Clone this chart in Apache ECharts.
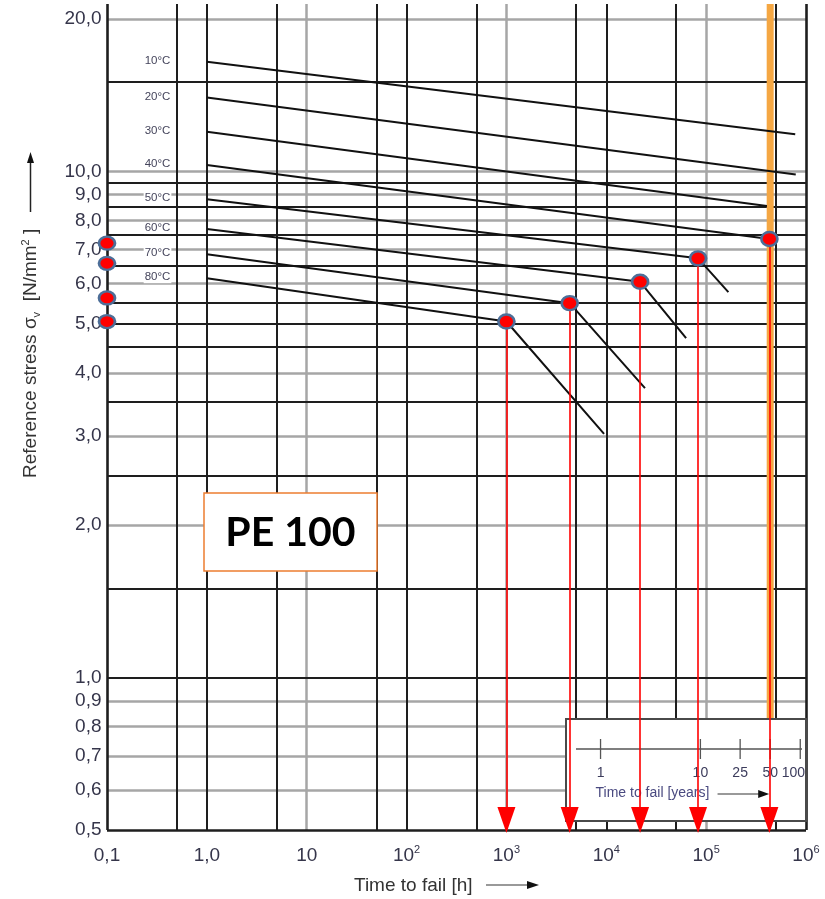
<!DOCTYPE html>
<html>
<head>
<meta charset="utf-8">
<script src="https://cdn.jsdelivr.net/npm/echarts@6/dist/echarts.min.js"></script>
<style>
html,body{margin:0;padding:0;background:#fff;}
#chart{width:825px;height:899px;}
</style>
</head>
<body>
<div id="chart"></div>
<script>
// ---------- data ----------
const tempLabels = ['10°C', '20°C', '30°C', '40°C', '50°C', '60°C', '70°C', '80°C'];
// [time to fail (h), reference stress (N/mm²)]
const curve10C = [[1, 16.46], [7.8e5, 11.83]];
const curve20C = [[1, 13.99], [7.9e5, 9.86]];
const curve30C = [[1, 11.97], [4.06e5, 8.54]];
const curve40C = [[1, 10.29], [4.3e5, 7.35]];
const curve50C = [[1, 8.81], [8.3e4, 6.73], [1.67e5, 5.77]];
const curve60C = [[1, 7.69], [2.18e4, 6.05], [6.3e4, 4.68]];
const curve70C = [[1, 6.86], [4.3e3, 5.49], [2.44e4, 3.73]];
const curve80C = [[1, 6.15], [1.0e3, 5.05], [9.5e3, 3.03]];
// marked failure points (red dots with arrows down to the time axis)
const failurePoints = [[1.0e3, 5.05], [4.3e3, 5.49], [2.18e4, 6.05], [8.3e4, 6.73], [4.3e5, 7.35]];
// red dots on the stress axis
const axisDotStress = [7.21, 6.58, 5.62, 5.05];
// tick labels
const xTickValues = [0.1, 1, 10, 100, 1e3, 1e4, 1e5, 1e6];
const xTickLabels = ['0,1', '1,0', '10', '10^2', '10^3', '10^4', '10^5', '10^6'];
const yTickValues = [20, 10, 9, 8, 7, 6, 5, 4, 3, 2, 1, 0.9, 0.8, 0.7, 0.6, 0.5];
const yTickLabels = ['20,0', '10,0', '9,0', '8,0', '7,0', '6,0', '5,0', '4,0', '3,0', '2,0', '1,0', '0,9', '0,8', '0,7', '0,6', '0,5'];
// grid lines of the printed diagram
const xGridDark = [0.1, 0.5, 1, 5, 50, 100, 500, 5000, 1e4, 5e4, 5e5, 1e6];
const xGridLight = [10, 1000, 1e5];
const yGridDark = [15, 9.5, 8.5, 7.5, 6.5, 5.5, 5, 4.5, 3.5, 2.5, 1.5, 1, 0.5];
const yGridLight = [20, 10, 9, 8, 7, 6, 4, 3, 2, 0.9, 0.8, 0.7, 0.6];
// years scale of the inset
const yearTicks = [1, 10, 25, 50, 100];
const hoursPerYear = 8760;
const designLifeYears = 50;
const xMin = 0.1, xMax = 1e6, yMin = 0.5, yMax = 21.4;

// ---------- chart ----------
const FONT = '"Liberation Sans", Arial, "DejaVu Sans", sans-serif';
const TXT = '#35354a';
const DARK = '#1e1e1e', LIGHT = '#a6a6a6';
const curves = [curve10C, curve20C, curve30C, curve40C, curve50C, curve60C, curve70C, curve80C];

function gridLine(axis, v, color, width) {
  const o = { lineStyle: { color: color, width: width, type: 'solid' } };
  o[axis] = v;
  return o;
}
const edgeX = [xMin, xMax], edgeY = [yMin];
const gridLines = [].concat(
  xGridLight.map(v => gridLine('xAxis', v, LIGHT, 2.5)),
  yGridLight.map(v => gridLine('yAxis', v, LIGHT, 2.5)),
  xGridDark.map(v => gridLine('xAxis', v, DARK, edgeX.includes(v) ? 2.6 : 2)),
  yGridDark.map(v => gridLine('yAxis', v, DARK, edgeY.includes(v) ? 2.6 : 2))
);

const hiddenAxis = {
  axisLine: { show: false }, axisTick: { show: false },
  axisLabel: { show: false }, splitLine: { show: false }
};

const dotStyle = { color: '#ff0000', borderColor: '#4d6e98', borderWidth: 2.5, opacity: 1 };
const ghost = { color: 'rgba(0,0,0,0)', opacity: 1 };

const series = [];
series.push({
  type: 'scatter', data: [], z: 1, silent: true,
  markLine: { z: 1, silent: true, symbol: 'none', label: { show: false }, animation: false, data: gridLines }
});
curves.forEach((c, i) => {
  series.push({
    name: tempLabels[i], type: 'line', data: c, z: 3, silent: true,
    symbol: 'none', lineStyle: { color: '#111', width: 2 }
  });
});
series.push({
  type: 'scatter', z: 4, silent: true, symbolSize: 1, itemStyle: ghost,
  data: curves.map((c, i) => ({ value: c[0], name: tempLabels[i] })),
  label: {
    show: true, position: 'left', distance: 35, offset: [0, -1], formatter: '{b}',
    fontFamily: FONT, fontSize: 11.5, color: '#45455c', backgroundColor: '#fff', padding: [0, 1]
  }
});
series.push({
  type: 'scatter', data: [], z: 6, silent: true,
  markLine: {
    z: 6, silent: true, symbol: 'none', label: { show: false }, animation: false,
    lineStyle: { color: '#ff0000', width: 1.6, type: 'solid' },
    data: failurePoints.map(p => [{ coord: p }, { coord: [p[0], yMin] }])
  }
});
series.push({
  type: 'scatter', z: 6, silent: true,
  symbol: 'triangle', symbolRotate: 180, symbolSize: [18, 26], symbolOffset: [0, -10],
  itemStyle: { color: '#ff0000', opacity: 1 },
  data: failurePoints.map(p => [p[0], yMin])
});
series.push({
  type: 'scatter', z: 7, silent: true, symbolSize: [16, 14], itemStyle: dotStyle,
  data: failurePoints
});
series.push({
  type: 'scatter', z: 7, silent: true, symbolSize: [16, 13], itemStyle: dotStyle,
  data: axisDotStress.map(v => [xMin, v])
});
series.push({
  type: 'scatter', z: 4, silent: true, symbolSize: 1, itemStyle: ghost,
  data: yTickValues.map((v, i) => ({ value: [xMin, v], name: yTickLabels[i] })),
  label: { show: true, position: 'left', distance: 5, formatter: '{b}', fontFamily: FONT, fontSize: 19, color: TXT }
});
series.push({
  type: 'scatter', z: 4, silent: true, symbolSize: 1, itemStyle: ghost,
  data: xTickValues.map((v, i) => ({ value: [v, yMin], name: xTickLabels[i] })),
  label: {
    show: true, position: 'bottom', distance: 14,
    formatter: p => {
      const parts = p.name.split('^');
      return parts.length > 1 ? '{b|' + parts[0] + '}{s|' + parts[1] + '}' : '{b|' + parts[0] + '}';
    },
    rich: {
      b: { fontFamily: FONT, fontSize: 19, color: TXT, lineHeight: 22 },
      s: { fontFamily: FONT, fontSize: 11, color: TXT, verticalAlign: 'top', lineHeight: 9 }
    }
  }
});

const chart = echarts.init(document.getElementById('chart'), null, { renderer: 'canvas' });
chart.setOption({
  animation: false,
  backgroundColor: '#fff',
  grid: { left: 107, right: 19, top: 4, bottom: 69, containLabel: false, outerBoundsMode: 'none' },
  xAxis: Object.assign({ type: 'log', logBase: 10, min: xMin, max: xMax }, hiddenAxis),
  yAxis: Object.assign({ type: 'log', logBase: 10, min: yMin, max: yMax }, hiddenAxis),
  series: series
});

// ---------- annotations positioned through the axis scales ----------
const xOf = v => chart.convertToPixel({ xAxisIndex: 0 }, v);
const yOf = v => chart.convertToPixel({ yAxisIndex: 0 }, v);
const inset = { left: 566, top: 719, right: 806, bottom: 821, axisY: 749 };
const g = [];
const lifeX = xOf(designLifeYears * hoursPerYear);
g.push({ type: 'line', z: 2, silent: true, shape: { x1: lifeX, y1: yOf(yMax), x2: lifeX, y2: inset.top },
  style: { stroke: '#F5A743', lineWidth: 7 } });
g.push({ type: 'rect', z: 5, silent: true,
  shape: { x: inset.left, y: inset.top, width: inset.right - inset.left, height: inset.bottom - inset.top },
  style: { fill: '#fff', stroke: '#4a4a4a', lineWidth: 2 } });
g.push({ type: 'line', z: 5, silent: true, shape: { x1: inset.left + 10, y1: inset.axisY, x2: inset.right - 4, y2: inset.axisY },
  style: { stroke: '#555', lineWidth: 1.3 } });
yearTicks.forEach((yr, i) => {
  const x = xOf(yr * hoursPerYear);
  g.push({ type: 'line', z: 5, silent: true, shape: { x1: x, y1: inset.axisY - 10, x2: x, y2: inset.axisY + 10 },
    style: { stroke: '#555', lineWidth: 1.3 } });
  const last = i === yearTicks.length - 1;
  g.push({ type: 'text', z: 5, silent: true, x: last ? inset.right - 1 : x, y: inset.axisY + 24,
    style: { text: String(yr), fontFamily: FONT, fontSize: 14, fill: '#3c3c5c',
      align: last ? 'right' : 'center', verticalAlign: 'middle',
      textAlign: last ? 'right' : 'center', textVerticalAlign: 'middle' } });
});
const x1y = xOf(yearTicks[0] * hoursPerYear) - 5;
g.push({ type: 'text', z: 5, silent: true, x: x1y, y: inset.axisY + 44,
  style: { text: 'Time to fail [years]', fontFamily: FONT, fontSize: 14, fill: '#4a4a80', align: 'left', verticalAlign: 'middle',
    textAlign: 'left', textVerticalAlign: 'middle' } });
g.push({ type: 'line', z: 5, silent: true, shape: { x1: x1y + 122, y1: inset.axisY + 45, x2: lifeX - 8, y2: inset.axisY + 45 },
  style: { stroke: '#777', lineWidth: 1.3 } });
g.push({ type: 'polygon', z: 5, silent: true,
  shape: { points: [[lifeX - 1, inset.axisY + 45], [lifeX - 12, inset.axisY + 41], [lifeX - 12, inset.axisY + 49]] },
  style: { fill: '#111' } });

// PE 100 box
g.push({ type: 'rect', z: 5, silent: true, shape: { x: 204, y: 493, width: 173, height: 78 },
  style: { fill: '#fff', stroke: '#ED7D31', lineWidth: 1.5 } });
g.push({ type: 'text', z: 6, silent: true, x: 290.5, y: 533,
  style: { text: 'PE 100', fontFamily: 'Lato, "Open Sans", sans-serif', fontWeight: 'bold', fontSize: 41, fill: '#000',
    align: 'center', verticalAlign: 'middle', textAlign: 'center', textVerticalAlign: 'middle' } });

// y axis title
g.push({ type: 'text', z: 6, silent: true, x: 31, y: 478, rotation: Math.PI / 2,
  style: {
    text: '{a|Reference stress σ}{sub|v}{a|  [N/mm}{sup|2}{a| ]}',
    align: 'left', verticalAlign: 'middle', textAlign: 'left', textVerticalAlign: 'middle',
    rich: {
      a: { fontFamily: FONT, fontSize: 19, fill: '#333', color: '#333', lineHeight: 22 },
      sub: { fontFamily: FONT, fontSize: 11, fill: '#333', color: '#333', verticalAlign: 'bottom', lineHeight: 14 },
      sup: { fontFamily: FONT, fontSize: 11, fill: '#333', color: '#333', verticalAlign: 'top', lineHeight: 14 }
    }
  } });
g.push({ type: 'line', z: 6, silent: true, shape: { x1: 30.5, y1: 212, x2: 30.5, y2: 160 }, style: { stroke: '#222', lineWidth: 1.5 } });
g.push({ type: 'polygon', z: 6, silent: true, shape: { points: [[30.5, 152], [27, 163], [34, 163]] }, style: { fill: '#111' } });

// x axis title
g.push({ type: 'text', z: 6, silent: true, x: 354, y: 886,
  style: { text: 'Time to fail [h]', fontFamily: FONT, fontSize: 19, fill: '#333', align: 'left', verticalAlign: 'middle',
    textAlign: 'left', textVerticalAlign: 'middle' } });
g.push({ type: 'line', z: 6, silent: true, shape: { x1: 486, y1: 885, x2: 530, y2: 885 }, style: { stroke: '#777', lineWidth: 1.5 } });
g.push({ type: 'polygon', z: 6, silent: true, shape: { points: [[539, 885], [527, 881], [527, 889]] }, style: { fill: '#111' } });

chart.setOption({ graphic: g });
</script>
</body>
</html>
